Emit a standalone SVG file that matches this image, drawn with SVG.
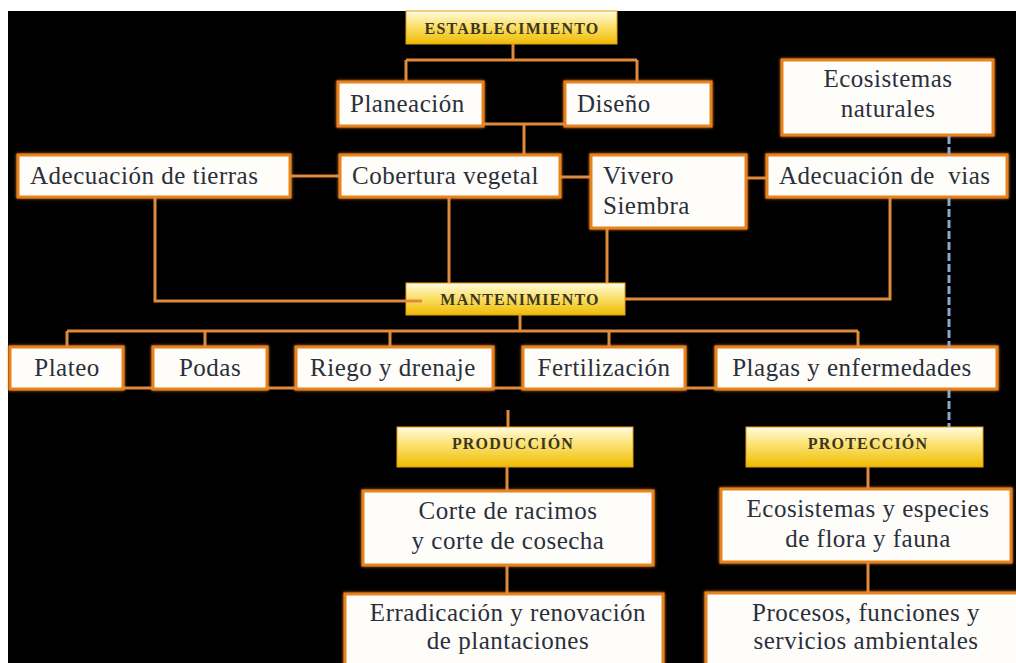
<svg xmlns="http://www.w3.org/2000/svg" width="1016" height="663" viewBox="0 0 1016 663">
  <defs>
    <linearGradient id="hdr" x1="0" y1="0" x2="0" y2="1">
      <stop offset="0" stop-color="#fffbe0"/>
      <stop offset="0.4" stop-color="#fbe47a"/>
      <stop offset="1" stop-color="#efbb00"/>
    </linearGradient>
    <filter id="glow" x="-10%" y="-20%" width="120%" height="140%">
      <feDropShadow dx="0" dy="0" stdDeviation="1.6" flood-color="#ff8a1e" flood-opacity="0.9"/>
    </filter>
    <style>
      .box { fill: #fffdfa; stroke: #e8821f; stroke-width: 3; filter: url(#glow); }
      .hdr { fill: url(#hdr); stroke: #e0a020; stroke-width: 1; }
      .t { font-family: "Liberation Serif", "Times New Roman", serif; font-size: 25px; fill: #2a303b; letter-spacing: 0.5px; white-space: pre; }
      .h { font-family: "Liberation Serif", "Times New Roman", serif; font-size: 16px; font-weight: bold; fill: #3b3620; letter-spacing: 1.2px; }
      .c { text-anchor: middle; }
      .ln { fill: none; stroke: #e08a3c; stroke-width: 3; }
      .dash { fill: none; stroke: #8aa8cc; stroke-width: 3; stroke-dasharray: 8 3; }
    </style>
  </defs>

  <rect x="0" y="0" width="1016" height="663" fill="#ffffff"/>
  <rect x="8" y="11" width="1008" height="652" fill="#000000"/>

  <g id="nodes">
    <g id="n-establecimiento">
      <rect class="hdr" x="406" y="11" width="211" height="33"/>
      <text class="h c" x="512" y="34">ESTABLECIMIENTO</text>
    </g>
    <g id="n-planeacion">
      <rect class="box" x="338" y="82" width="145" height="44"/>
      <text class="t" x="350" y="112">Planeación</text>
    </g>
    <g id="n-diseno">
      <rect class="box" x="565" y="82" width="146" height="44"/>
      <text class="t" x="577" y="112">Diseño</text>
    </g>
    <g id="n-ecosistemas-naturales">
      <rect class="box" x="782" y="60" width="211" height="75"/>
      <text class="t c" x="888" y="87">Ecosistemas</text>
      <text class="t c" x="888" y="117">naturales</text>
    </g>
    <g id="n-adecuacion-tierras">
      <rect class="box" x="18" y="155" width="272" height="42"/>
      <text class="t" x="30" y="184">Adecuación de tierras</text>
    </g>
    <g id="n-cobertura">
      <rect class="box" x="340" y="155" width="220" height="42"/>
      <text class="t" x="352" y="184">Cobertura vegetal</text>
    </g>
    <g id="n-vivero">
      <rect class="box" x="591" y="155" width="155" height="73"/>
      <text class="t" x="603" y="184">Vivero</text>
      <text class="t" x="603" y="214">Siembra</text>
    </g>
    <g id="n-adecuacion-vias">
      <rect class="box" x="767" y="155" width="240" height="42"/>
      <text class="t" x="779" y="184">Adecuación de  vias</text>
    </g>
    <g id="n-mantenimiento">
      <rect class="hdr" x="406" y="283" width="219" height="32"/>
      <text class="h c" x="520" y="305">MANTENIMIENTO</text>
    </g>
    <g id="n-plateo">
      <rect class="box" x="10" y="347" width="113" height="42"/>
      <text class="t c" x="67" y="376">Plateo</text>
    </g>
    <g id="n-podas">
      <rect class="box" x="153" y="347" width="114" height="42"/>
      <text class="t c" x="210" y="376">Podas</text>
    </g>
    <g id="n-riego">
      <rect class="box" x="296" y="347" width="197" height="42"/>
      <text class="t c" x="393" y="376">Riego y drenaje</text>
    </g>
    <g id="n-fertilizacion">
      <rect class="box" x="523" y="347" width="162" height="42"/>
      <text class="t c" x="604" y="376">Fertilización</text>
    </g>
    <g id="n-plagas">
      <rect class="box" x="716" y="347" width="281" height="42"/>
      <text class="t c" x="852" y="376">Plagas y enfermedades</text>
    </g>
    <g id="n-produccion">
      <rect class="hdr" x="397" y="427" width="236" height="40"/>
      <text class="h c" x="513" y="449">PRODUCCIÓN</text>
    </g>
    <g id="n-corte">
      <rect class="box" x="363" y="491" width="290" height="74"/>
      <text class="t c" x="508" y="519">Corte de racimos</text>
      <text class="t c" x="508" y="549">y corte de cosecha</text>
    </g>
    <g id="n-erradicacion">
      <rect class="box" x="345" y="594" width="318" height="75"/>
      <text class="t c" x="508" y="621">Erradicación y renovación</text>
      <text class="t c" x="508" y="649">de plantaciones</text>
    </g>
    <g id="n-proteccion">
      <rect class="hdr" x="746" y="427" width="237" height="40"/>
      <text class="h c" x="868" y="449">PROTECCIÓN</text>
    </g>
    <g id="n-ecosistemas-especies">
      <rect class="box" x="721" y="489" width="290" height="73"/>
      <text class="t c" x="868" y="517">Ecosistemas y especies</text>
      <text class="t c" x="868" y="547">de flora y fauna</text>
    </g>
    <g id="n-procesos">
      <rect class="box" x="706" y="593" width="312" height="76"/>
      <text class="t c" x="866" y="621">Procesos, funciones y</text>
      <text class="t c" x="866" y="649">servicios ambientales</text>
    </g>
  </g>

  <g id="connectors">
    <path class="dash" d="M949 136 V155 M949 198 V347 M949 390 V427"/>
    <path class="ln" d="M513 44 V60 M406 60 H637 M406 60 V82 M637 60 V82"/>
    <path class="ln" d="M483 124 H565 M524 124 V155"/>
    <path class="ln" d="M290 176 H340 M560 177 H591 M746 178 H767"/>
    <path class="ln" d="M155 197 V301 H422"/>
    <path class="ln" d="M449 197 V283 M607 228 V283"/>
    <path class="ln" d="M890 197 V299 H625"/>
    <path class="ln" d="M520 315 V331 M67 331 H858 M67 331 V347 M205 331 V347 M390 331 V347 M609 331 V347 M858 331 V347"/>
    <path class="ln" d="M123 388 H153 M267 388 H296 M493 388 H523 M685 388 H716"/>
    <path class="ln" d="M508 410 V427 M507 467 V491 M507 565 V594"/>
    <path class="ln" d="M868 467 V489 M868 562 V593"/>
  </g>
</svg>
